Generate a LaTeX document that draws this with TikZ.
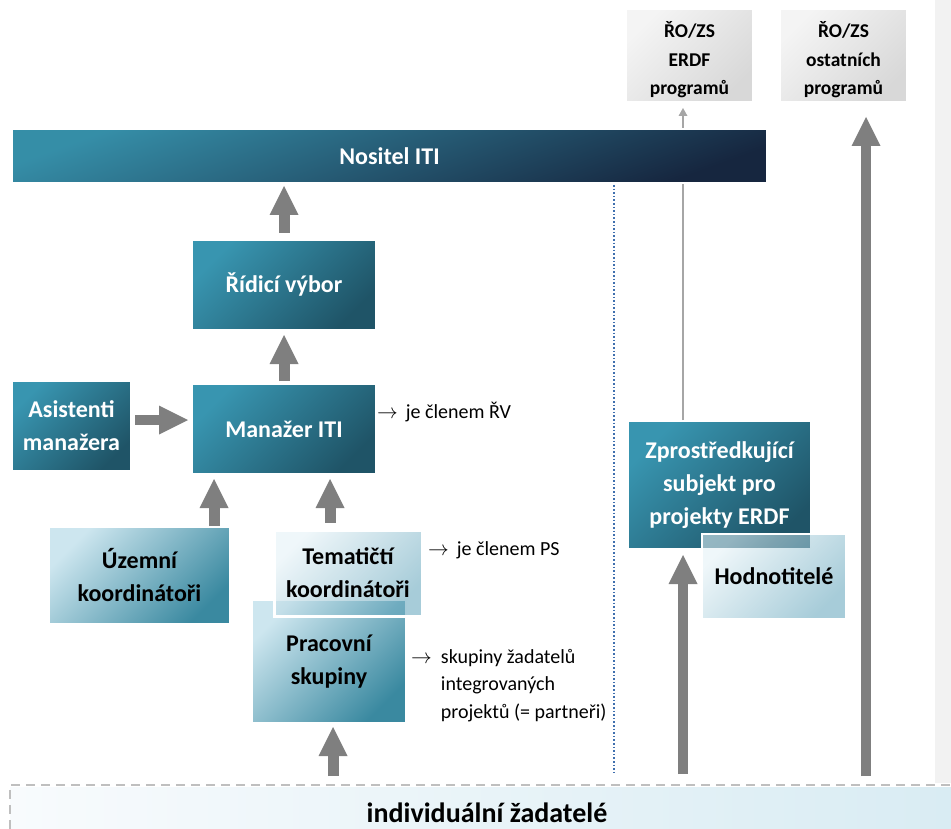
\documentclass[tikz,border=0pt]{standalone}
\usepackage{fontspec}
\setmainfont{Carlito}
\usetikzlibrary{arrows.meta}
\definecolor{arrowgray}{HTML}{7F7F7F}
\definecolor{thingray}{HTML}{A6A6A6}
\definecolor{dotblue}{HTML}{3F6FAE}
\definecolor{tealA}{HTML}{3895B0}
\definecolor{tealB}{HTML}{1F5467}
\definecolor{navyB}{HTML}{16263F}
\definecolor{lightA}{HTML}{CDE6EF}
\definecolor{lightB}{HTML}{3A89A0}
\definecolor{paleA}{HTML}{E4F1F6}
\definecolor{paleB}{HTML}{67A7BD}
\definecolor{grayA}{HTML}{F4F4F4}
\definecolor{grayB}{HTML}{D8D8D8}
\definecolor{bandgray}{HTML}{F2F2F2}
\definecolor{dashgray}{HTML}{BFBFBF}
\definecolor{footA}{HTML}{F8FBFD}
\definecolor{footB}{HTML}{D9ECF3}
\newcommand\lblfont{\fontsize{24}{33}\selectfont\bfseries}
\newcommand\smlfont{\fontsize{19.5}{28.5}\selectfont\bfseries}
\newcommand\notefont{\fontsize{20}{27.7}\selectfont}
\begin{document}
\begin{tikzpicture}[x=1pt,y=-1pt,
  basebox/.style={rectangle, inner sep=0pt, align=center, draw=white, line width=2pt},
  darkbox/.style={basebox, text=white, font=\lblfont, top color=tealA, bottom color=tealB, shading angle=45},
  lightbox/.style={basebox, text=black, font=\lblfont, top color=lightA, bottom color=lightB, shading angle=45},
  palebox/.style={basebox, text=black, font=\lblfont, top color=paleA, bottom color=paleB, shading angle=45, fill opacity=0.58, draw opacity=1, text opacity=1},
  graybox/.style={basebox, text=black, font=\smlfont, top color=grayA, bottom color=grayB, shading angle=45},
  fat/.style={draw=arrowgray, line width=11pt, -{Triangle[width=29pt,length=29pt,line width=0pt]}},
  note/.style={inner sep=0pt, font=\notefont, text=black}
]
\useasboundingbox (0,0) rectangle (951,829);
% right background band
\fill[bandgray] (935,0) rectangle (951,783);
% footer band
\shade[left color=footA, right color=footB] (10,787) rectangle (951,829);
\draw[dashgray, line width=2.5pt, dash pattern=on 9pt off 6pt] (10,829) -- (10,785) -- (951,785);
\node[anchor=base, font=\fontsize{28}{33}\selectfont\bfseries] (indiv) at (487,822) {individuální žadatelé};

% boxes
\node[graybox, minimum width=127pt, minimum height=93pt] (erdf) at (689.5,55.5) {\rule{0pt}{25pt}ŘO/ZS\\ERDF\\programů};
\node[graybox, minimum width=127pt, minimum height=93pt] (ostat) at (843.5,55.5) {\rule{0pt}{25pt}ŘO/ZS\\ostatních\\programů};
\node[darkbox, minimum width=183pt, minimum height=128pt] (zs) at (719.5,485) {Zprostředkující\\subjekt pro\\projekty ERDF};

% thin connector behind the bar
\coordinate (zstop) at ([xshift=-36.5pt]zs.north);
\draw[thingray, line width=2.5pt, -{Triangle[width=9pt,length=8pt,line width=0pt]}, shorten >=5pt] (zstop) -- (zstop |- erdf.south);

\node[darkbox, bottom color=navyB, top color=tealA!95!black, shading angle=20, minimum width=755pt, minimum height=54pt] (nositel) at (389.5,156) {Nositel ITI};
\node[darkbox, minimum width=184pt, minimum height=90pt] (ridici) at (284,285) {Řídicí výbor};
\node[darkbox, minimum width=184pt, minimum height=90pt] (manazer) at (284,429) {Manažer ITI};
\node[darkbox, minimum width=119pt, minimum height=90pt] (asist) at (71.5,426) {Asistenti\\manažera};
\node[lightbox, minimum width=181pt, minimum height=97pt] (uzemni) at (139.5,575.5) {Územní\\koordinátoři};
\node[lightbox, minimum width=154pt, minimum height=123pt] (prac) at (329,661.5) {Pracovní\\skupiny};
\node[palebox, line width=3pt, minimum width=148pt, minimum height=86pt] (tem) at (348,573) {Tematičtí\\koordinátoři};
\node[palebox, minimum width=144pt, minimum height=85pt] (hodn) at (774,576.5) {Hodnotitelé};

% dotted separator
\draw[dotblue, line width=1.6pt, dotted] (614,185) -- (614,773);

% notes
\node[note, anchor=base west] (n1) at (377,418) {$\rightarrow$\ \,je členem ŘV};
\node[note, anchor=base west] (n2) at (428,555) {$\rightarrow$\ \,je členem PS};
\node[note, anchor=north west] (n3) at (411,643.5) {\begin{tabular}{@{}l@{\hspace{9pt}}l@{}}$\rightarrow$ & skupiny žadatelů\\ & integrovaných\\ & projektů (= partneři)\end{tabular}};

% fat arrows
\draw[fat, shorten <=6pt, shorten >=2pt] (ridici.north) -- (ridici.north |- nositel.south);
\draw[fat, shorten <=2pt, shorten >=4pt] (manazer.north) -- (ridici.south);
\draw[fat, line width=10pt, shorten <=3pt, shorten >=3pt] ([yshift=6pt]asist.east) -- ([yshift=6pt]asist.east -| manazer.west);
\coordinate (u1) at ([xshift=-17pt]uzemni.north east);
\draw[fat, shorten >=4pt] (u1) -- (u1 |- manazer.south);
\coordinate (t1) at ([xshift=-18pt, yshift=6pt]tem.north);
\draw[fat, shorten >=4pt] (t1) -- (t1 |- manazer.south);
\coordinate (p1) at (333,776);
\draw[fat, shorten >=3pt] (p1) -- (p1 |- prac.south);
\coordinate (z1) at (683,774);
\draw[fat, line width=10pt, shorten >=5pt] (z1) -- (z1 |- zs.south);
\coordinate (o1) at (866,776);
\draw[fat, line width=10pt, shorten >=14pt] (o1) -- (o1 |- ostat.south);
\end{tikzpicture}
\end{document}
